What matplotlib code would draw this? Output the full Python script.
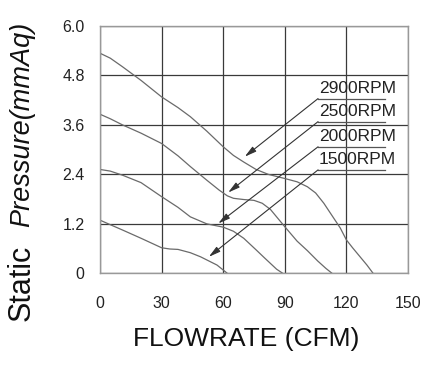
import matplotlib
matplotlib.use("Agg")
import matplotlib.pyplot as plt

plt.rcParams['font.family'] = ['Liberation Sans', 'DejaVu Sans']

# Data
x_2900 = [0, 5, 11, 20, 30, 38, 44, 52, 60, 65, 70, 76, 82, 90, 96, 101, 105, 109, 113, 117, 120, 123, 126, 130, 133]
y_2900 = [5.34, 5.22, 5.01, 4.68, 4.28, 4.02, 3.80, 3.45, 3.07, 2.86, 2.70, 2.52, 2.40, 2.30, 2.22, 2.10, 1.95, 1.70, 1.40, 1.10, 0.81, 0.62, 0.44, 0.20, 0.0]
x_2500 = [0, 5, 11, 20, 30, 38, 44, 52, 58, 62, 65, 70, 75, 79, 83, 90, 96, 101, 106, 110, 113]
y_2500 = [3.86, 3.75, 3.60, 3.40, 3.15, 2.85, 2.59, 2.26, 2.02, 1.88, 1.82, 1.79, 1.77, 1.70, 1.55, 1.13, 0.78, 0.55, 0.30, 0.12, 0.0]
x_2000 = [0, 5, 11, 20, 30, 38, 44, 52, 60, 65, 70, 76, 80, 83, 86, 89]
y_2000 = [2.52, 2.48, 2.38, 2.20, 1.86, 1.60, 1.37, 1.20, 1.12, 1.02, 0.85, 0.57, 0.38, 0.24, 0.10, 0.0]
x_1500 = [0, 5, 11, 20, 30, 34, 38, 44, 49, 53, 57, 60, 62]
y_1500 = [1.29, 1.18, 1.05, 0.85, 0.62, 0.59, 0.58, 0.50, 0.40, 0.30, 0.20, 0.08, 0.0]

labels = ['2900RPM', '2500RPM', '2000RPM', '1500RPM']
label_y = [4.24, 3.68, 3.07, 2.51]
arrow_tips = [(70.5, 2.83), (62.4, 1.96), (57.6, 1.21), (53.0, 0.40)]

xticks = [0, 30, 60, 90, 120, 150]
yticks = [0, 1.2, 2.4, 3.6, 4.8, 6.0]
yticklabels = ['0', '1.2', '2.4', '3.6', '4.8', '6.0']

fig = plt.figure(figsize=(4.45, 3.69), dpi=100)
ax = fig.add_axes([0.2247, 0.2593, 0.6922, 0.6702])

curve_color = '#6a6a6a'
for xs, ys in [(x_2900, y_2900), (x_2500, y_2500), (x_2000, y_2000), (x_1500, y_1500)]:
    ax.plot(xs, ys, color=curve_color, lw=0.9)

ax.set_xlim(0, 150)
ax.set_ylim(0, 6.0)
ax.set_xticks(xticks)
ax.set_yticks(yticks)
ax.set_yticklabels(yticklabels)
ax.grid(True, color='#3a3a3a', lw=0.9)
ax.tick_params(length=0, labelsize=11.5, colors='#222222')
ax.tick_params(axis='y', pad=11)
ax.tick_params(axis='x', pad=16)
for s in ax.spines.values():
    s.set_color('#999999')
    s.set_linewidth(1.0)

x0, x1 = 106.2, 138.6
for lab, ly, tip in zip(labels, label_y, arrow_tips):
    ax.plot([x0, x1], [ly, ly], color='#555555', lw=0.9)
    ax.text(x0 + 0.3, ly + 0.07, lab, fontsize=12.5, color='#222222', ha='left', va='bottom')
    ax.annotate('', xy=tip, xytext=(x0, ly),
                arrowprops=dict(arrowstyle='-|>,head_length=0.7,head_width=0.18',
                                color='#333333', lw=0.8, shrinkA=0, shrinkB=0))

fig.text(0.554, 0.0813, 'FLOWRATE (CFM)', fontsize=19, color='#111111',
         ha='center', va='center')

fig.text(0.049, 0.2344, 'Static', rotation=90, fontsize=22, color='#111111',
         ha='center', va='center')
fig.text(0.049, 0.664, 'Pressure(mmAq)', rotation=90, fontsize=19.5, color='#111111',
         ha='center', va='center', style='italic')

fig.savefig('out.png', dpi=100)
